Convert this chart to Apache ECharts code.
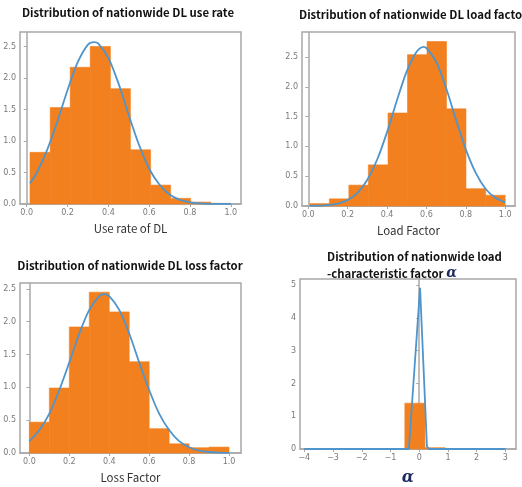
<!DOCTYPE html>
<html>
<head>
<meta charset="utf-8">
<script src="https://cdn.jsdelivr.net/npm/echarts@6/dist/echarts.min.js"></script>
<style>
  html, body { margin: 0; padding: 0; background: #fff; }
  #main { width: 522px; height: 487px; }
</style>
</head>
<body>
<div id="main"></div>
<script>
// histogram bin edges and density heights
const useEdges = [0.016, 0.115, 0.213, 0.311, 0.41, 0.508, 0.607, 0.705, 0.803, 0.902, 1.0];
const useHeights = [0.82, 1.53, 2.17, 2.5, 1.83, 0.86, 0.3, 0.09, 0.03, 0.01];
const useCurveX = [0.016, 0.05, 0.1, 0.15, 0.2, 0.25, 0.3, 0.33, 0.35, 0.4, 0.45, 0.5, 0.55, 0.6, 0.65, 0.7, 0.75, 0.8, 0.85, 0.9, 0.95, 1.0];
const useCurveY = [0.33, 0.5, 0.86, 1.31, 1.81, 2.25, 2.53, 2.57, 2.55, 2.32, 1.91, 1.41, 0.94, 0.56, 0.31, 0.15, 0.066, 0.026, 0.009, 0.003, 0.001, 0.0];

const loadEdges = [0.008, 0.107, 0.206, 0.305, 0.405, 0.504, 0.603, 0.702, 0.801, 0.901, 1.0];
const loadHeights = [0.04, 0.12, 0.35, 0.69, 1.56, 2.54, 2.76, 1.63, 0.29, 0.18];
const loadCurveX = [0.008, 0.05, 0.1, 0.15, 0.2, 0.25, 0.3, 0.35, 0.4, 0.45, 0.5, 0.55, 0.585, 0.6, 0.65, 0.7, 0.75, 0.8, 0.85, 0.9, 0.95, 1.0];
const loadCurveY = [0.001, 0.005, 0.014, 0.04, 0.1, 0.22, 0.44, 0.78, 1.24, 1.77, 2.26, 2.59, 2.67, 2.65, 2.42, 1.98, 1.45, 0.95, 0.56, 0.29, 0.14, 0.06];

const lossEdges = [0.0, 0.1, 0.2, 0.3, 0.4, 0.5, 0.6, 0.7, 0.8, 0.9, 1.0];
const lossHeights = [0.47, 0.99, 1.92, 2.45, 2.15, 1.39, 0.37, 0.14, 0.08, 0.09];
const lossCurveX = [0.0, 0.05, 0.1, 0.15, 0.2, 0.25, 0.3, 0.35, 0.375, 0.4, 0.45, 0.5, 0.55, 0.6, 0.65, 0.7, 0.75, 0.8, 0.85, 0.9, 0.95, 1.0];
const lossCurveY = [0.18, 0.35, 0.6, 0.96, 1.38, 1.82, 2.18, 2.39, 2.42, 2.39, 2.18, 1.82, 1.38, 0.96, 0.6, 0.35, 0.18, 0.088, 0.038, 0.015, 0.005, 0.002];

const alphaEdges = [-4, -3.3, -2.6, -1.9, -1.2, -0.5, 0.2, 0.9, 1.6, 2.3, 3.0];
const alphaHeights = [0, 0, 0, 0, 0, 1.4, 0.04, 0, 0, 0];
const alphaCurveX = [-4, -3, -2, -1, -0.36, 0.03, 0.27, 0.34, 1, 2, 3];
const alphaCurveY = [0, 0, 0, 0, 0, 4.92, 0.08, 0, 0, 0, 0];

// tick labels
const unitTicks = [0, 0.2, 0.4, 0.6, 0.8, 1.0];
const densTicks = [0, 0.5, 1.0, 1.5, 2.0, 2.5];
const alphaXTicks = [-4, -3, -2, -1, 0, 1, 2, 3];
const alphaYTicks = [0, 1, 2, 3, 4, 5];

const ORANGE = '#f2801f';
const BLUE = '#4f95cb';
const FRAME = '#a8a8a8';
const TICKTXT = '#7a7a7a';

const chart = echarts.init(document.getElementById('main'));

function binData(edges, heights) {
    return heights.map((h, i) => [edges[i], edges[i + 1], h]);
}
function pairs(xs, ys) {
    return xs.map((x, i) => [x, ys[i]]);
}

function renderBin(params, api) {
    const p0 = api.coord([api.value(0), api.value(2)]);
    const p1 = api.coord([api.value(1), 0]);
    return {
        type: 'rect',
        shape: { x: p0[0], y: p0[1], width: p1[0] - p0[0], height: p1[1] - p0[1] },
        style: { fill: ORANGE, stroke: ORANGE, lineWidth: 0.6 }
    };
}

function xAxisCfg(idx, min, max, ticks, name, fmt) {
    return {
        type: 'value', gridIndex: idx, min: min, max: max,
        splitLine: { show: false },
        axisLine: { show: true, lineStyle: { color: FRAME, width: 1.5 } },
        axisTick: { show: true, length: 3, lineStyle: { color: FRAME }, customValues: ticks },
        axisLabel: { color: TICKTXT, fontSize: 8, margin: 5, customValues: ticks, formatter: fmt, fontFamily: 'DejaVu Sans' },
        name: name, nameLocation: 'middle', nameGap: 19,
        nameTextStyle: { fontSize: 11.5, color: '#333', fontFamily: 'Noto Sans CJK KR' }
    };
}
function yAxisCfg(idx, min, max, ticks, fmt) {
    return {
        type: 'value', gridIndex: idx, min: min, max: max,
        splitLine: { show: false },
        axisLine: { show: true, lineStyle: { color: FRAME, width: 1.5 } },
        axisTick: { show: true, length: 3, lineStyle: { color: FRAME }, customValues: ticks },
        axisLabel: { color: TICKTXT, fontSize: 8, margin: 4, customValues: ticks, formatter: fmt, fontFamily: 'DejaVu Sans' }
    };
}
const f1 = v => v.toFixed(1);
const f0 = v => (v < 0 ? '\u2212' + Math.abs(v) : String(v));

function curve(idx, xs, ys, smooth) {
    return {
        type: 'line', xAxisIndex: idx, yAxisIndex: idx, showSymbol: false, z: 3,
        smooth: smooth,
        lineStyle: { color: BLUE, width: 1.8 },
        data: pairs(xs, ys)
    };
}
function bins(idx, edges, heights) {
    return {
        type: 'custom', xAxisIndex: idx, yAxisIndex: idx, renderItem: renderBin,
        encode: { x: [0, 1], y: 2 }, data: binData(edges, heights)
    };
}

const titleStyle = { fontSize: 11.4, fontWeight: 'bold', color: '#111', fontFamily: 'Noto Sans CJK KR' };

const option = {
    backgroundColor: '#fff',
    animation: false,
    title: [
        { text: 'Distribution of nationwide DL use rate', left: 123, top: 2, textAlign: 'center', textStyle: titleStyle },
        { text: 'Distribution of nationwide DL load factor', left: 294, top: 4, textStyle: titleStyle },
        { text: 'Distribution of nationwide DL loss factor', left: 125, top: 255, textAlign: 'center', textStyle: titleStyle },
        {
            text: 'Distribution of nationwide load\n-characteristic factor {a|\u03b1}', left: 322, top: 243,
            textStyle: Object.assign({}, titleStyle, {
                lineHeight: 17,
                rich: { a: { fontSize: 14, fontWeight: 'bold', fontStyle: 'italic', color: '#1c2a5e', fontFamily: 'DejaVu Serif', lineHeight: 17 } }
            })
        }
    ],
    grid: [
        { left: 20, top: 32, width: 221, height: 172, show: true, borderColor: FRAME, borderWidth: 1.5 },
        { left: 302, top: 32, width: 213, height: 174, show: true, borderColor: FRAME, borderWidth: 1.5 },
        { left: 20, top: 283, width: 221, height: 170, show: true, borderColor: FRAME, borderWidth: 1.5 },
        { left: 300, top: 279, width: 216, height: 173, show: true, borderColor: FRAME, borderWidth: 1.5 }
    ],
    xAxis: [
        xAxisCfg(0, -0.033, 1.05, unitTicks, 'Use rate of DL', f1),
        xAxisCfg(1, -0.032, 1.05, unitTicks, 'Load Factor', f1),
        xAxisCfg(2, -0.047, 1.06, unitTicks, 'Loss Factor', f1),
        Object.assign(xAxisCfg(3, -4.15, 3.37, alphaXTicks, '\u03b1', f0), {
            nameGap: 21,
            nameTextStyle: { fontSize: 16, fontWeight: 'bold', fontStyle: 'italic', color: '#1c2a5e', fontFamily: 'DejaVu Serif' }
        })
    ],
    yAxis: [
        yAxisCfg(0, 0, 2.73, densTicks, f1),
        yAxisCfg(1, 0, 2.92, densTicks, f1),
        yAxisCfg(2, 0, 2.59, densTicks, f1),
        yAxisCfg(3, 0, 5.19, alphaYTicks, f0)
    ],
    series: [
        bins(0, useEdges, useHeights),
        curve(0, useCurveX, useCurveY, 0.3),
        bins(1, loadEdges, loadHeights),
        curve(1, loadCurveX, loadCurveY, 0.3),
        bins(2, lossEdges, lossHeights),
        curve(2, lossCurveX, lossCurveY, 0.3),
        bins(3, alphaEdges, alphaHeights),
        curve(3, alphaCurveX, alphaCurveY, false)
    ]
};

chart.setOption(option);
</script>
</body>
</html>
